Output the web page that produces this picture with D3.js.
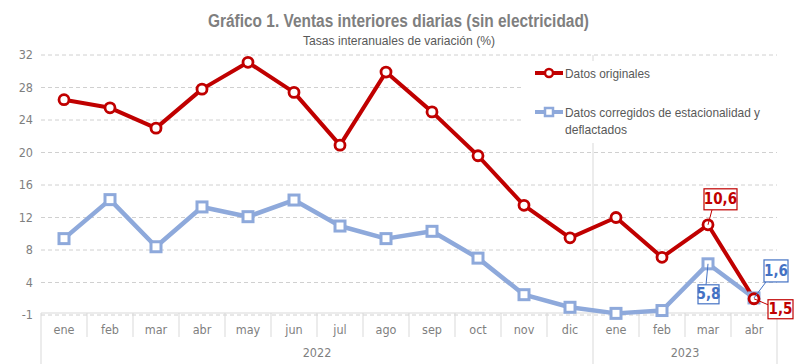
<!DOCTYPE html>
<html><head><meta charset="utf-8">
<script src="https://cdn.jsdelivr.net/npm/d3@7"></script>
<style>
body{margin:0;background:#fff;}
svg{display:block;}
text{font-family:"Liberation Sans Narrow","Arial Narrow","DejaVu Sans Condensed",sans-serif;}
text.n{font-family:"Liberation Sans",Arial,sans-serif;}
</style></head>
<body><svg id="c" width="796" height="364"></svg>
<script>
const months = ["ene","feb","mar","abr","may","jun","jul","ago","sep","oct","nov","dic","ene","feb","mar","abr"];
const years = [{label:"2022", start:0, end:11},{label:"2023", start:12, end:15}];
const original = [26.0,25.0,22.5,27.3,30.6,26.9,20.4,29.4,24.5,19.1,13.0,9.0,11.5,6.6,10.6,1.5];
const corrected = [8.9,13.7,7.9,12.8,11.6,13.65,10.45,8.9,9.8,6.5,2.0,0.45,-0.3,0.05,5.8,1.6];
const tickValues = [-0.5,3.5,7.5,11.5,15.5,19.5,23.5,27.5,31.5];
const tickLabels = ["-1","4","8","12","16","20","24","28","32"];
const seriesNames = ["Datos originales","Datos corregidos de estacionalidad y","deflactados"];
const title = "Gráfico 1. Ventas interiores diarias (sin electricidad)";
const subtitle = "Tasas interanuales de variación (%)";

const RED = "#C00000", BLUE = "#8EA9DB", BLUE_TXT = "#4472C4", GREY = "#7f7f7f";
const svg = d3.select("#c");
const L = 41, R = 777, T = 55, B = 315;
const x = d3.scaleBand().domain(d3.range(months.length)).range([L, R]);
const cx = i => x(i) + x.bandwidth()/2;
const y = d3.scaleLinear().domain([-0.5, 31.5]).range([B, T]);

// title
svg.append("text").attr("class","n").attr("x",208).attr("y",27)
  .attr("font-size",18).attr("font-weight","bold").attr("fill",GREY)
  .attr("textLength",381).attr("lengthAdjust","spacingAndGlyphs").text(title);
svg.append("text").attr("class","n").attr("x",303).attr("y",45)
  .attr("font-size",13.5).attr("fill","#595959")
  .attr("textLength",192).attr("lengthAdjust","spacingAndGlyphs").text(subtitle);

// gridlines
svg.append("g").selectAll("line").data(tickValues).join("line")
  .attr("x1",L).attr("x2",R).attr("y1",d=>y(d)).attr("y2",d=>y(d))
  .attr("stroke","#d0d0d0").attr("stroke-dasharray","4,3").attr("stroke-width",1);

// y tick labels
svg.append("g").selectAll("text").data(tickValues).join("text")
  .attr("x",33).attr("y",d=>y(d)+4).attr("text-anchor","end")
  .attr("font-size",12.5).attr("fill",GREY).text((d,i)=>tickLabels[i]);

// year separator through plot (between dic and ene)
const sepX = x(12);
svg.append("line").attr("x1",sepX).attr("x2",sepX).attr("y1",T).attr("y2",364)
  .attr("stroke","#d9d9d9").attr("stroke-width",1);

// x axis box
svg.append("line").attr("x1",L).attr("x2",R).attr("y1",B-2).attr("y2",B-2).attr("stroke","#d9d9d9");
svg.append("g").selectAll("line").data(d3.range(1,months.length).filter(i=>i!==12)).join("line")
  .attr("x1",i=>x(i)).attr("x2",i=>x(i)).attr("y1",B-2).attr("y2",337).attr("stroke","#d9d9d9");
[L, R].forEach(v=>svg.append("line").attr("x1",v).attr("x2",v).attr("y1",B-2).attr("y2",364).attr("stroke","#d9d9d9"));
svg.append("g").selectAll("text").data(months).join("text")
  .attr("x",(d,i)=>cx(i)).attr("y",334).attr("text-anchor","middle")
  .attr("font-size",12.5).attr("fill",GREY).text(d=>d);
svg.append("g").selectAll("text").data(years).join("text")
  .attr("x",d=>(x(d.start)+x(d.end)+x.bandwidth())/2).attr("y",357).attr("text-anchor","middle")
  .attr("font-size",12.5).attr("fill",GREY).text(d=>d.label);

// legend background (covers gridlines)
svg.append("rect").attr("x",521).attr("y",61).attr("width",R-521).attr("height",82).attr("fill","#fff");

// lines
const line = d3.line().x((d,i)=>cx(i)).y(d=>y(d));
svg.append("path").datum(corrected).attr("d",line).attr("fill","none")
  .attr("stroke",BLUE).attr("stroke-width",4.5).attr("stroke-linejoin","round");
svg.append("path").datum(original).attr("d",line).attr("fill","none")
  .attr("stroke",RED).attr("stroke-width",4).attr("stroke-linejoin","round");
svg.append("g").selectAll("rect").data(corrected).join("rect")
  .attr("x",(d,i)=>cx(i)-5).attr("y",d=>y(d)-5).attr("width",10).attr("height",10)
  .attr("fill","#fff").attr("stroke",BLUE).attr("stroke-width",3);
svg.append("g").selectAll("circle").data(original).join("circle")
  .attr("cx",(d,i)=>cx(i)).attr("cy",d=>y(d)).attr("r",5)
  .attr("fill","#fff").attr("stroke",RED).attr("stroke-width",2.8);

// legend
const lg = svg.append("g");
lg.append("line").attr("x1",535).attr("x2",563).attr("y1",73).attr("y2",73).attr("stroke",RED).attr("stroke-width",4);
lg.append("circle").attr("cx",549).attr("cy",73).attr("r",4).attr("fill","#fff").attr("stroke",RED).attr("stroke-width",2.5);
lg.append("text").attr("class","n").attr("x",565).attr("y",78).attr("font-size",13.5).attr("fill","#595959")
  .attr("textLength",85).attr("lengthAdjust","spacingAndGlyphs").text(seriesNames[0]);
lg.append("line").attr("x1",535).attr("x2",563).attr("y1",112).attr("y2",112).attr("stroke",BLUE).attr("stroke-width",4);
lg.append("rect").attr("x",545).attr("y",108).attr("width",8).attr("height",8).attr("fill","#fff").attr("stroke",BLUE).attr("stroke-width",2.5);
lg.append("text").attr("class","n").attr("x",565).attr("y",117).attr("font-size",13.5).attr("fill","#595959")
  .attr("textLength",195).attr("lengthAdjust","spacingAndGlyphs").text(seriesNames[1]);
lg.append("text").attr("class","n").attr("x",565).attr("y",134).attr("font-size",13.5).attr("fill","#595959")
  .attr("textLength",62).attr("lengthAdjust","spacingAndGlyphs").text(seriesNames[2]);

// data labels
const fmt = v => String(v).replace(".", ",");
function callout(i, v, color, txtColor, bx, by, bw, bh, ax, ay){
  const px = cx(i), py = y(v);
  svg.append("line").attr("x1",px).attr("y1",py).attr("x2",px+ax).attr("y2",py+ay)
    .attr("stroke",color).attr("stroke-width",1);
  svg.append("rect").attr("x",px+bx).attr("y",py+by).attr("width",bw).attr("height",bh)
    .attr("fill","#fff").attr("stroke",color).attr("stroke-width",1.2);
  svg.append("text").attr("x",px+bx+bw/2).attr("y",py+by+bh/2+5).attr("text-anchor","middle")
    .attr("font-size",15).attr("font-weight","bold").attr("fill",txtColor).text(fmt(v));
}
callout(14, original[14], RED, RED, -4, -36, 33, 21, 4, -15);
callout(14, corrected[14], BLUE_TXT, BLUE_TXT, -10, 21, 21, 19, -2, 21);
callout(15, corrected[15], BLUE_TXT, BLUE_TXT, 10, -38, 24, 22, 12, -16);
callout(15, original[15], RED, RED, 14, 1, 25, 19, 14, 6);
</script></body></html>
